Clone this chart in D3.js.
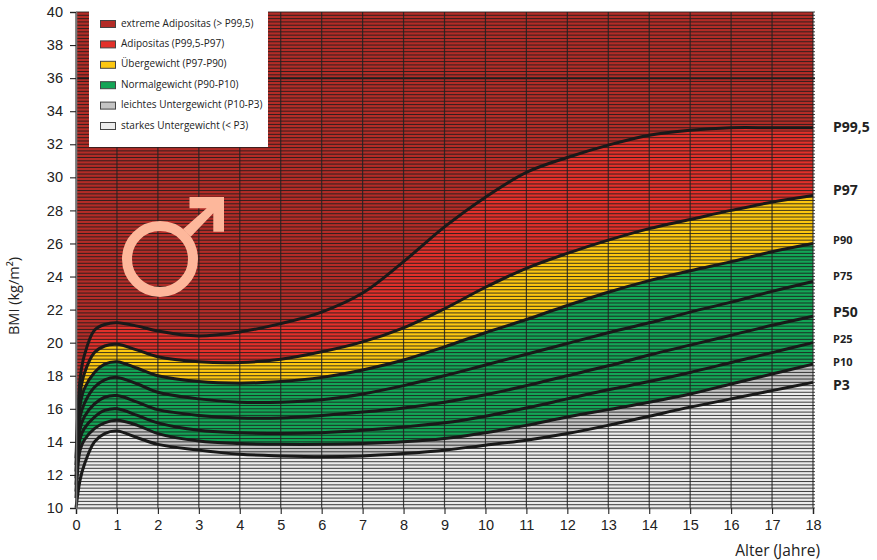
<!DOCTYPE html>
<html>
<head>
<meta charset="utf-8">
<script src="https://cdn.jsdelivr.net/npm/d3@7"></script>
<style>
  body { margin: 0; background: #fff; }
  svg { display: block; font-family: "Open Sans", sans-serif; }
</style>
</head>
<body>
<div id="chart"></div>
<script>
const ages = [0, 0.1, 0.2, 0.45, 0.7, 1, 1.5, 2, 3, 4, 5, 6, 7, 8, 9, 10, 11, 12, 13, 14, 15, 16, 17, 18];

const p995 = [13, 17.8, 19.2, 20.75, 21.1, 21.2, 21.0, 20.7, 20.4, 20.65, 21.15, 21.85, 23.0, 24.9, 27.0, 28.8, 30.3, 31.2, 31.95, 32.55, 32.85, 33, 33, 33];
const p97 = [12.6, 16.9, 18.1, 19.4, 19.8, 19.9, 19.55, 19.15, 18.85, 18.8, 19.0, 19.45, 20.05, 20.9, 22.05, 23.35, 24.5, 25.4, 26.2, 26.9, 27.45, 28, 28.5, 28.9];
const p90 = [12.2, 16.2, 17.2, 18.2, 18.7, 18.85, 18.45, 18.0, 17.65, 17.55, 17.65, 17.9, 18.35, 18.95, 19.75, 20.6, 21.4, 22.25, 23.05, 23.75, 24.35, 24.9, 25.5, 26];
const p75 = [11.8, 15.5, 16.3, 17.3, 17.75, 17.9, 17.5, 17.0, 16.6, 16.4, 16.4, 16.55, 16.9, 17.4, 18.0, 18.65, 19.3, 19.95, 20.6, 21.2, 21.85, 22.45, 23.1, 23.7];
const p50 = [11.4, 14.8, 15.5, 16.3, 16.7, 16.8, 16.4, 15.95, 15.6, 15.45, 15.45, 15.6, 15.8, 16.05, 16.4, 16.85, 17.4, 18.0, 18.6, 19.25, 19.85, 20.45, 21.05, 21.6];
const p25 = [11, 14.2, 14.8, 15.5, 15.9, 16.0, 15.6, 15.15, 14.7, 14.55, 14.5, 14.55, 14.7, 14.9, 15.15, 15.55, 16.05, 16.6, 17.15, 17.65, 18.2, 18.8, 19.4, 20];
const p10 = [10.6, 13.5, 14.1, 14.8, 15.15, 15.3, 15.0, 14.5, 14.05, 13.9, 13.85, 13.85, 13.9, 14.0, 14.2, 14.55, 15.0, 15.5, 15.95, 16.4, 16.9, 17.5, 18.1, 18.7];
const p3 = [10, 11.7, 12.6, 14.0, 14.5, 14.65, 14.25, 13.85, 13.5, 13.25, 13.15, 13.1, 13.15, 13.3, 13.5, 13.8, 14.1, 14.5, 15.0, 15.55, 16.1, 16.6, 17.1, 17.6];

const curveNames = ["P99,5", "P97", "P90", "P75", "P50", "P25", "P10", "P3"];
const curves = [p995, p97, p90, p75, p50, p25, p10, p3];

const legendLabels = [
  "extreme Adipositas (> P99,5)",
  "Adipositas (P99,5-P97)",
  "Übergewicht (P97-P90)",
  "Normalgewicht (P90-P10)",
  "leichtes Untergewicht (P10-P3)",
  "starkes Untergewicht (< P3)",
];
const legendColors = ["#b32c27", "#e2302a", "#fcc710", "#13a556", "#c4c4c4", "#ececec"];

const xTicks = d3.range(0, 19, 1);
const yTicks = d3.range(10, 41, 2);
const gridValues = d3.range(10, 40.01, 0.2);

const width = 877;
const height = 560;
const margin = { top: 12, right: 64, bottom: 52, left: 76 };

const svg = d3
  .select("#chart")
  .append("svg")
  .attr("width", width)
  .attr("height", height);

const x = d3.scaleLinear().domain([0, 18]).range([margin.left, width - margin.right]);
const y = d3.scaleLinear().domain([10, 40]).range([height - margin.bottom, margin.top]);

const smooth = d3.curveCatmullRom.alpha(0.5);

// Farbflächen zwischen den Perzentilen
const bandEdges = [
  [ages.map(() => 40), p995],
  [p995, p97],
  [p97, p90],
  [p90, p10],
  [p10, p3],
  [p3, ages.map(() => 10)],
];

const area = (upper, lower) =>
  d3
    .area()
    .x((d) => x(d))
    .y0((d, i) => y(lower[i]))
    .y1((d, i) => y(upper[i]))
    .curve(smooth)(ages);

svg
  .selectAll(".band")
  .data(bandEdges)
  .enter()
  .append("path")
  .attr("class", "band")
  .attr("d", ([upper, lower]) => area(upper, lower))
  .attr("fill", (d, i) => legendColors[i]);

// Feines Raster alle 0,2 BMI
svg
  .selectAll(".hgrid")
  .data(gridValues)
  .enter()
  .append("line")
  .attr("class", "hgrid")
  .attr("x1", x(0))
  .attr("x2", x(18) + 2)
  .attr("y1", (d) => y(d))
  .attr("y2", (d) => y(d))
  .attr("stroke", "#1c1c1c")
  .attr("stroke-opacity", (d) => (Math.abs(d - 36) < 0.01 ? 1 : 0.85))
  .attr("stroke-width", (d) => (Math.abs(d - 36) < 0.01 ? 2 : 1));

svg
  .selectAll(".vgrid")
  .data(xTicks)
  .enter()
  .append("line")
  .attr("class", "vgrid")
  .attr("x1", (d) => x(d))
  .attr("x2", (d) => x(d))
  .attr("y1", y(40))
  .attr("y2", y(10))
  .attr("stroke", "#222")
  .attr("stroke-opacity", 0.85)
  .attr("stroke-width", 1.2);

// Perzentilkurven
const line = d3
  .line()
  .x((d, i) => x(ages[i]))
  .y((d) => y(d))
  .curve(smooth);

svg
  .selectAll(".curve")
  .data(curves)
  .enter()
  .append("path")
  .attr("class", "curve")
  .attr("d", line)
  .attr("fill", "none")
  .attr("stroke", "#191919")
  .attr("stroke-width", 3);

// Achsen
const xAxis = svg
  .append("g")
  .attr("transform", `translate(0, ${y(10)})`)
  .call(d3.axisBottom(x).tickValues(xTicks).tickSize(6).tickPadding(6).tickFormat(d3.format("d")));

const yAxis = svg
  .append("g")
  .attr("transform", `translate(${x(0)}, 0)`)
  .call(d3.axisLeft(y).tickValues(yTicks).tickSize(6).tickPadding(7).tickFormat(d3.format("d")));

[xAxis, yAxis].forEach((axis) => {
  axis.selectAll("text").style("font-size", "14.5px").style("fill", "#222");
  axis.selectAll(".tick line").attr("stroke", "#222").attr("stroke-width", 1.1);
  axis.select(".domain").attr("stroke", "#777").attr("stroke-width", 1.6);
});

svg
  .append("text")
  .attr("transform", `translate(19, 296) rotate(-90)`)
  .attr("text-anchor", "middle")
  .style("font-size", "14.5px")
  .style("fill", "#222")
  .text("BMI (kg/m²)");

svg
  .append("text")
  .attr("x", 820)
  .attr("y", 556)
  .attr("text-anchor", "end")
  .style("font-size", "15.5px")
  .style("fill", "#222")
  .text("Alter (Jahre)");

// Beschriftung rechts, grosse Schrift nur bei den Hauptperzentilen
const bigLabels = ["P99,5", "P97", "P50", "P3"];
const labelShift = { "P99,5": 1, P97: -4, P90: -2, P75: -4, P50: -3, P25: -3, P10: -1, P3: 4 };

svg
  .selectAll(".curve-label")
  .data(curveNames)
  .enter()
  .append("text")
  .attr("class", "curve-label")
  .attr("x", 833)
  .attr("y", (d, i) => y(curves[i][curves[i].length - 1]) + labelShift[d])
  .attr("dominant-baseline", "middle")
  .style("font-size", (d) => (bigLabels.includes(d) ? "14px" : "11px"))
  .style("font-weight", 700)
  .style("fill", "#222")
  .text((d) => d);

// Legende
svg
  .append("rect")
  .attr("x", 89)
  .attr("y", 10)
  .attr("width", 179)
  .attr("height", 137)
  .attr("fill", "#fff");

const legendRow = d3.scaleLinear().domain([0, 5]).range([24, 126]);

legendLabels.forEach((label, i) => {
  svg
    .append("rect")
    .attr("x", 100.5)
    .attr("y", legendRow(i) - 3.5)
    .attr("width", 15)
    .attr("height", 7)
    .attr("fill", legendColors[i])
    .attr("stroke", "#444")
    .attr("stroke-width", 1);

  svg
    .append("text")
    .attr("x", 121)
    .attr("y", legendRow(i))
    .attr("dominant-baseline", "middle")
    .style("font-size", "10px")
    .style("fill", "#222")
    .text(label);
});

// Männlich-Symbol
const symbolColor = "#fdb79b";
const symbol = svg.append("g");

symbol
  .append("circle")
  .attr("cx", 160)
  .attr("cy", 259)
  .attr("r", 33)
  .attr("fill", "none")
  .attr("stroke", symbolColor)
  .attr("stroke-width", 10);

symbol
  .append("path")
  .attr("d", "M183,229.3 L206.700,208.300 L189.500,208.300 L189.500,197 L224,197 L224,231.700 L213.300,231.700 L213.300,213.300 L190.700,236.700 Z")
  .attr("fill", symbolColor);
</script>
</body>
</html>
